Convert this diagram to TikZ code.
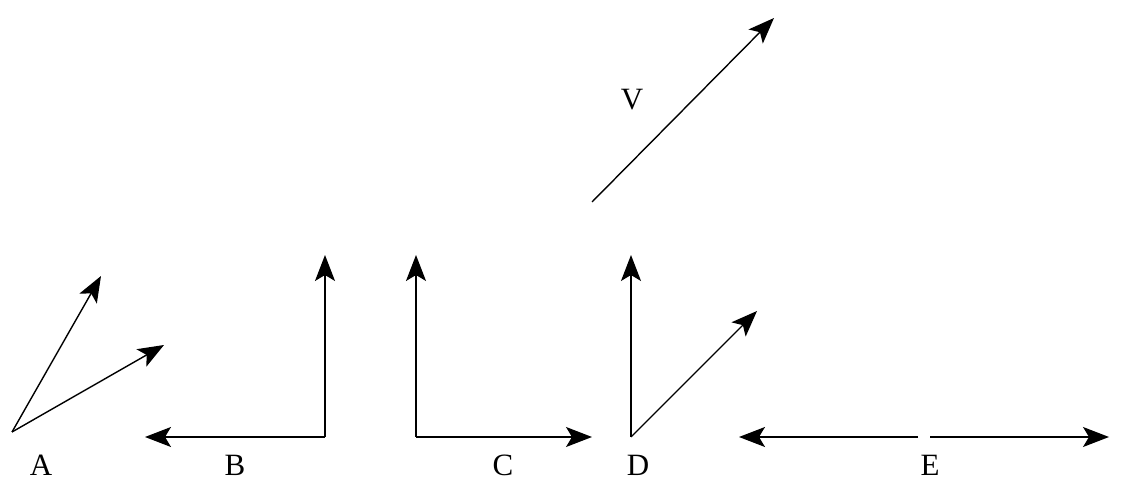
\documentclass[tikz,border=0pt]{standalone}
\usepackage{fontspec}
\setmainfont{Liberation Serif}
\usetikzlibrary{arrows.meta}
\begin{document}
\begin{tikzpicture}[x=1pt,y=-1pt,
  vec/.style={line width=1.4pt,-{Stealth[length=26pt,width=20pt,inset=6pt]}},
  lab/.style={font=\fontsize{31}{31}\selectfont,inner sep=0pt}]
\useasboundingbox (0,0) rectangle (1125,502);
% A
\coordinate (a0) at (12,432); \coordinate (a1) at (101,276); \coordinate (a2) at (164,345);
\draw[vec] (a0) -- (a1); \draw[vec] (a0) -- (a2);
\node[lab] (la) at (41,465) {A};
% B
\coordinate (b0) at (325,437); \coordinate (b1) at (325,255); \coordinate (b2) at (145,437);
\draw[vec] (b0) -- (b1); \draw[vec] (b0) -- (b2);
\node[lab] (lb) at (235,465) {B};
% C
\coordinate (c0) at (416,437); \coordinate (c1) at (416,255); \coordinate (c2) at (592,437);
\draw[vec] (c0) -- (c1); \draw[vec] (c0) -- (c2);
\node[lab] (lc) at (503,465) {C};
% D
\coordinate (d0) at (631,437); \coordinate (d1) at (631,255); \coordinate (d2) at (757,311);
\draw[vec] (d0) -- (d1); \draw[vec] (d0) -- (d2);
\node[lab] (ld) at (638,465) {D};
% E
\coordinate (e0) at (918,437); \coordinate (e1) at (739,437);
\coordinate (e2) at (930,437); \coordinate (e3) at (1109,437);
\draw[vec] (e0) -- (e1); \draw[vec] (e2) -- (e3);
\node[lab] (le) at (930,465) {E};
% V
\coordinate (v0) at (592,202); \coordinate (v1) at (774,18);
\draw[vec] (v0) -- (v1);
\node[lab] (lv) at (632,100) {V};
\end{tikzpicture}
\end{document}
